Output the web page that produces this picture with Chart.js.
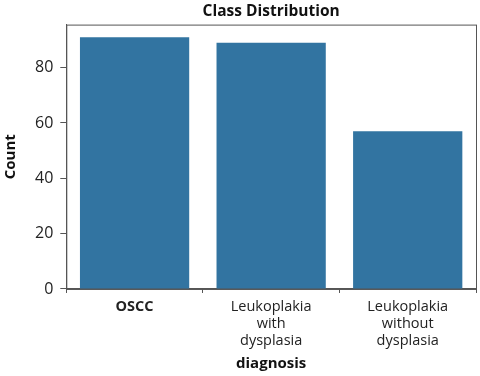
<!DOCTYPE html>
<html>
<head>
<meta charset="utf-8">
<script src="https://cdn.jsdelivr.net/npm/chart.js@4.4.0/dist/chart.umd.min.js"></script>
<style>
  html, body { margin: 0; padding: 0; background: #fff; }
  #wrap { width: 480px; height: 376px; }
</style>
</head>
<body>
<div id="wrap"><canvas id="chart"></canvas></div>
<script>
// dados do gráfico
const categories = [['OSCC'], ['Leukoplakia', 'with', 'dysplasia'], ['Leukoplakia', 'without', 'dysplasia']];
const counts = [91, 89, 57];
const yTicks = [0, 20, 40, 60, 80];

const FONT = "'Open Sans', 'Noto Sans', sans-serif";

// moldura em volta da área do gráfico
const frame = {
    id: 'frame',
    afterDraw(chart) {
        const { ctx, chartArea: a } = chart;
        ctx.save();
        ctx.strokeStyle = '#555';
        ctx.lineWidth = 1;
        ctx.strokeRect(a.left + 0.5, a.top + 0.5, a.right - a.left, a.bottom - a.top);
        ctx.restore();
    }
};

new Chart(document.getElementById('chart'), {
    type: 'bar',
    data: {
        labels: categories,
        datasets: [{ data: counts, backgroundColor: '#3274a1', categoryPercentage: 1, barPercentage: 0.8 }]
    },
    options: {
        responsive: true,
        maintainAspectRatio: false,
        animation: false,
        layout: { padding: { left: 2, right: 4, top: 0, bottom: 3 } },
        plugins: {
            legend: { display: false },
            tooltip: { enabled: false },
            title: {
                display: true, fullSize: false, text: 'Class Distribution', color: '#111',
                font: { family: FONT, size: 15.5, weight: 'bold' }, padding: { top: 2, bottom: 4 }
            }
        },
        scales: {
            x: {
                grid: { display: true, drawOnChartArea: false, drawTicks: true, tickLength: 4, color: '#555' },
                border: { display: true, color: '#555' },
                ticks: {
                    color: '#222', padding: 6, maxRotation: 0,
                    font: c => ({ family: FONT, size: 14.5, lineHeight: 1.15, weight: c.index === 0 ? 'bold' : 'normal' })
                },
                title: { display: true, text: 'diagnosis', color: '#111', font: { family: FONT, size: 15, weight: 'bold' }, padding: { top: 0, bottom: 0 } }
            },
            y: {
                min: 0, max: 95.55,
                afterBuildTicks: axis => { axis.ticks = yTicks.map(v => ({ value: v })); },
                grid: { display: true, drawOnChartArea: false, drawTicks: true, tickLength: 6, color: '#555' },
                border: { display: true, color: '#555' },
                ticks: { color: '#222', padding: 7, font: { family: FONT, size: 16 } },
                title: { display: true, text: 'Count', color: '#111', font: { family: FONT, size: 15, weight: 'bold' }, padding: { top: 0, bottom: 8 } }
            }
        }
    },
    plugins: [frame]
});
</script>
</body>
</html>
